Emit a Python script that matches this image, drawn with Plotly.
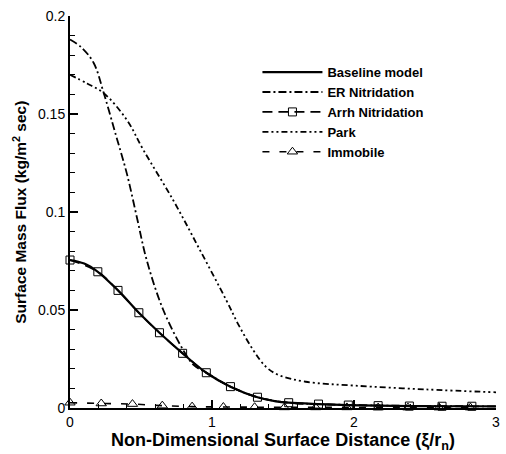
import plotly.graph_objects as go

# Surface mass flux along the body surface for several surface-chemistry models
baseline_x = [0.0, 0.1, 0.196, 0.338, 0.485, 0.63, 0.793, 0.96, 1.13, 1.32, 1.45, 1.54, 1.75, 1.96, 2.17, 2.39, 2.62, 2.83, 3.0]
baseline_y = [0.0755, 0.0737, 0.0695, 0.060, 0.0486, 0.0384, 0.0279, 0.018, 0.0109, 0.0055, 0.0034, 0.0027, 0.002, 0.0015, 0.0012, 0.001, 0.0009, 0.0009, 0.0008]

er_x = [0.0, 0.08, 0.167, 0.238, 0.32, 0.40, 0.47, 0.54, 0.657, 0.797, 0.87, 0.96, 1.13, 1.32, 1.54, 1.75, 2.0, 2.5, 3.0]
er_y = [0.188, 0.184, 0.176, 0.1606, 0.140, 0.1197, 0.0976, 0.0755, 0.050, 0.0296, 0.022, 0.018, 0.0109, 0.0055, 0.0027, 0.002, 0.0015, 0.001, 0.0008]

arrh_x = [0.0, 0.196, 0.338, 0.485, 0.63, 0.793, 0.96, 1.13, 1.32, 1.54, 1.75, 1.96, 2.17, 2.39, 2.62, 2.83]
arrh_y = [0.0755, 0.0695, 0.060, 0.0486, 0.0384, 0.0279, 0.018, 0.0109, 0.0055, 0.0027, 0.002, 0.0015, 0.0012, 0.001, 0.0009, 0.0009]

park_x = [0.0, 0.12, 0.238, 0.40, 0.517, 0.727, 0.915, 1.10, 1.19, 1.29, 1.38, 1.47, 1.66, 2.01, 2.5, 3.0]
park_y = [0.170, 0.1656, 0.1606, 0.147, 0.1316, 0.106, 0.0806, 0.0551, 0.042, 0.0296, 0.021, 0.0168, 0.0134, 0.0114, 0.0095, 0.008]

immobile_x = [0.0, 0.22, 0.44, 0.65, 0.86, 1.08, 1.30, 1.51, 1.73, 1.95, 2.17, 2.38, 2.60, 2.82]
immobile_y = [0.0027, 0.0023, 0.002, 0.0012, 0.0007, 0.0005, 0.0004, 0.0003, 0.0003, 0.0003, 0.0002, 0.0002, 0.0002, 0.0002]

FONT = "Arial, Liberation Sans, sans-serif"

fig = go.Figure()

fig.add_trace(go.Scatter(
    x=arrh_x, y=arrh_y, name="Arrh Nitridation", mode="lines+markers", legendrank=3,
    line=dict(color="black", width=1.6, dash="10px,6px", shape="spline"),
    marker=dict(symbol="square-open", size=8, color="black", line=dict(width=1)),
    cliponaxis=False,
))
fig.add_trace(go.Scatter(
    x=baseline_x, y=baseline_y, name="Baseline model", mode="lines", legendrank=1,
    line=dict(color="black", width=2.2, shape="spline"),
))
fig.add_trace(go.Scatter(
    x=er_x, y=er_y, name="ER Nitridation", mode="lines", legendrank=2,
    line=dict(color="black", width=1.8, dash="8px,3px,2px,3px", shape="spline"),
))
fig.add_trace(go.Scatter(
    x=park_x, y=park_y, name="Park", mode="lines", legendrank=4,
    line=dict(color="black", width=1.8, dash="6px,3px,2px,3px,2px,3px", shape="spline"),
))
fig.add_trace(go.Scatter(
    x=immobile_x, y=immobile_y, name="Immobile", mode="lines+markers", legendrank=5,
    line=dict(color="black", width=1.6, dash="7px,10px", shape="spline"),
    marker=dict(symbol="triangle-up-open", size=9, color="black", line=dict(width=1)),
    cliponaxis=False,
))

axis_common = dict(
    showgrid=False, zeroline=False, showline=True, linecolor="black", linewidth=2,
    ticks="inside", tickcolor="black", tickwidth=2, ticklen=8,
    tickfont=dict(family=FONT, size=14, color="black"),
    mirror=False,
)

fig.update_xaxes(
    range=[0, 3], dtick=1, tick0=0,
    minor=dict(dtick=0.2, ticks="inside", ticklen=4, tickcolor="black", tickwidth=1),
    title=dict(text="<b>Non-Dimensional Surface Distance (ξ/r<sub>n</sub>)</b>",
               font=dict(family=FONT, size=18, color="black"), standoff=5),
    **axis_common,
)
fig.update_yaxes(
    range=[0, 0.2], dtick=0.05, tick0=0,
    tickvals=[0, 0.05, 0.1, 0.15, 0.2], ticktext=["0", "0.05", "0.1", "0.15", "0.2"],
    minor=dict(dtick=0.01, ticks="inside", ticklen=5, tickcolor="black", tickwidth=1),
    **axis_common,
)

# vertical axis title, centred on the plotting area
fig.add_annotation(
    text="<b>Surface Mass Flux (kg/m<sup>2</sup> sec)</b>",
    xref="paper", yref="paper", x=-0.118, y=0.5, xanchor="center", yanchor="middle",
    textangle=-90, showarrow=False,
    font=dict(family=FONT, size=15.5, color="black"),
)

fig.update_layout(
    width=506, height=454,
    margin=dict(l=70, r=6, t=16, b=46),
    plot_bgcolor="white", paper_bgcolor="white",
    font=dict(family=FONT, color="black"),
    legend=dict(
        x=0.44, y=0.895, xanchor="left", yanchor="top",
        font=dict(family=FONT, size=13, color="black", weight="bold"),
        bgcolor="rgba(0,0,0,0)", tracegroupgap=0, itemwidth=60,
    ),
)

fig.write_html("out.html")
